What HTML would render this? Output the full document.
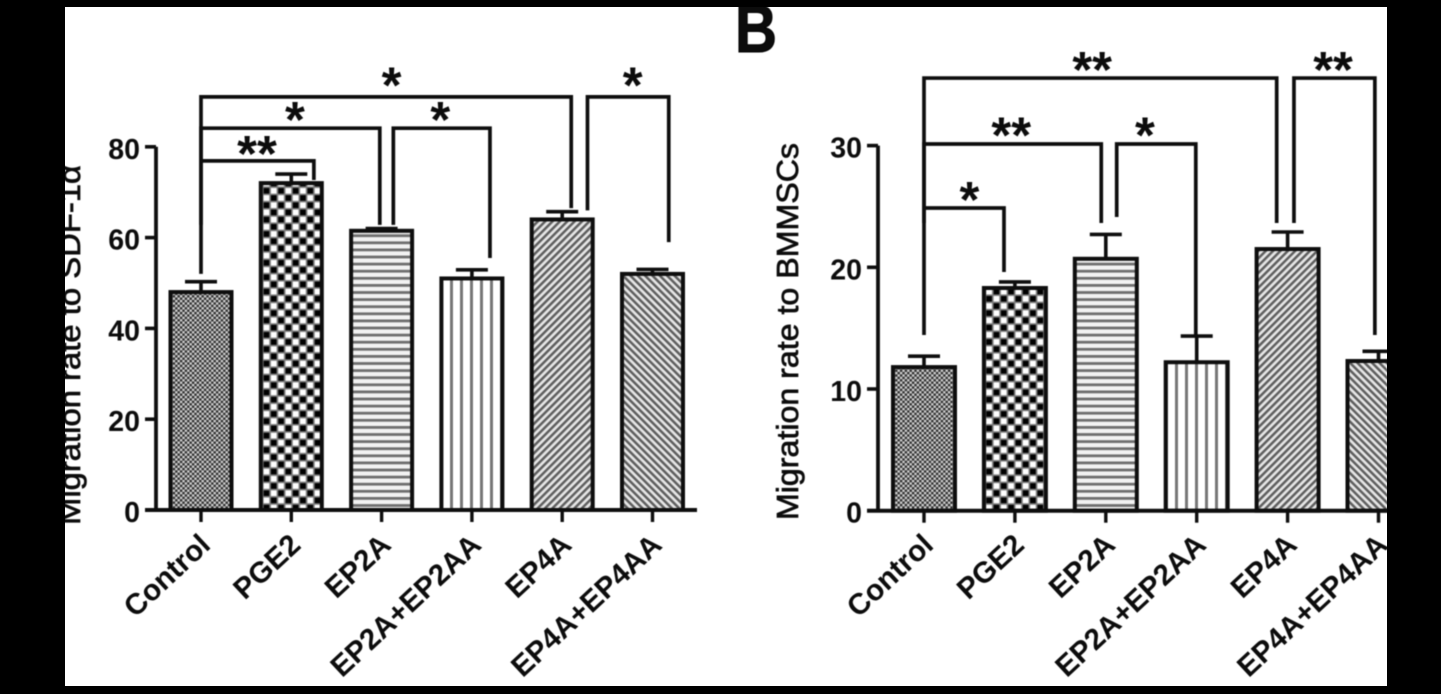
<!DOCTYPE html>
<html lang="en">
<head>
<meta charset="utf-8">
<title>Migration rate bar charts</title>
<style>
html,body{margin:0;padding:0;background:#000;}
#stage{position:relative;width:1441px;height:694px;overflow:hidden;background:#fff;}
#chart{position:absolute;left:0;top:0;filter:blur(0.65px);}
.frame{position:absolute;background:#000;}
text{font-family:"Liberation Sans",sans-serif;fill:#0c0c0c;}
</style>
</head>
<body>
<div id="stage">
<svg id="chart" width="1441" height="694" viewBox="0 0 1441 694" xmlns="http://www.w3.org/2000/svg">
<defs>
<pattern id="p-dots" width="4.8" height="4.8" patternUnits="userSpaceOnUse">
<rect width="4.8" height="4.8" fill="#7a7a7a"/>
<rect x="0" y="0" width="2.2" height="2.2" fill="#d4d4d4"/>
<rect x="2.4" y="2.4" width="2.2" height="2.2" fill="#d4d4d4"/>
<rect x="2.4" y="0" width="2.2" height="2.2" fill="#2c2c2c"/>
<rect x="0" y="2.4" width="2.2" height="2.2" fill="#2c2c2c"/>
</pattern>
<pattern id="p-check" width="14.6" height="14.4" patternUnits="userSpaceOnUse">
<rect width="14.6" height="14.4" fill="#7d7d7d"/>
<rect x="0.8" y="0.8" width="5.7" height="5.6" fill="#000"/>
<rect x="8.1" y="8" width="5.7" height="5.6" fill="#000"/>
<rect x="8.1" y="0.8" width="5.7" height="5.6" fill="#fff"/>
<rect x="0.8" y="8" width="5.7" height="5.6" fill="#fff"/>
</pattern>
<pattern id="p-horiz" width="7" height="7.1" patternUnits="userSpaceOnUse">
<rect width="7" height="7.1" fill="#f2f2f2"/>
<rect y="0" width="7" height="2.8" fill="#6f6f6f"/>
</pattern>
<pattern id="p-vert-left" x="1" width="10" height="10" patternUnits="userSpaceOnUse">
<rect width="10" height="10" fill="#fff"/>
<rect x="-1" width="3" height="10" fill="#777"/>
<rect x="9" width="2" height="10" fill="#777"/>
</pattern>
<pattern id="p-vert-right" x="6" width="10" height="10" patternUnits="userSpaceOnUse">
<rect width="10" height="10" fill="#fff"/>
<rect x="-1" width="3" height="10" fill="#777"/>
<rect x="9" width="2" height="10" fill="#777"/>
</pattern>
<pattern id="p-diag-up" width="5.2" height="5.2" patternUnits="userSpaceOnUse" patternTransform="rotate(45)">
<rect width="5.2" height="5.2" fill="#e6e6e6"/>
<rect width="2.5" height="5.2" fill="#5e5e5e"/>
</pattern>
<pattern id="p-diag-down" width="5.2" height="5.2" patternUnits="userSpaceOnUse" patternTransform="rotate(-45)">
<rect width="5.2" height="5.2" fill="#e6e6e6"/>
<rect width="2.5" height="5.2" fill="#5e5e5e"/>
</pattern>
</defs>
<g id="plot"></g>
</svg>
<div class="frame" style="left:0;top:0;width:1441px;height:7px"></div>
<div class="frame" style="left:0;top:686px;width:1441px;height:8px"></div>
<div class="frame" style="left:0;top:0;width:65px;height:694px"></div>
<div class="frame" style="left:1387px;top:0;width:54px;height:694px"></div>
</div>
<script>
const categories = ['Control', 'PGE2', 'EP2A', 'EP2A+EP2AA', 'EP4A', 'EP4A+EP4AA'];

const leftValues = [48, 72, 61.5, 51, 64, 52];
const leftUpper = [50.3, 74, 62, 52.9, 65.7, 53];
const leftTicks = [0, 20, 40, 60, 80];
const leftBracketStart = [0, 0, 0, 2.13, 4.28];
const leftBracketEnd = [4.1, 1.98, 1.25, 3.2, 5.18];
const leftBracketLevel = [91, 84.1, 76.9, 84.1, 91];
const leftBracketStartDrop = [52, 62.8, 76.9, 62.8, 66];
const leftBracketEndDrop = [66.5, 62.8, 72.7, 55.5, 59];
const leftStarText = ['*', '*', '**', '*', '*'];
const leftStarCategory = [2.11, 1.04, 0.62, 2.65, 4.78];
const leftStarLevel = [95, 87.5, 80, 87.5, 95];

const rightValues = [11.8, 18.3, 20.7, 12.2, 21.5, 12.3];
const rightUpper = [12.7, 18.8, 22.7, 14.35, 22.9, 13.1];
const rightTicks = [0, 10, 20, 30];
const rightBracketStart = [0, 0, 0, 2.12, 4.07];
const rightBracketEnd = [3.88, 1.95, 0.88, 2.99, 4.96];
const rightBracketLevel = [35.55, 30.13, 24.87, 30.13, 35.55];
const rightBracketStartDrop = [14.44, 23.64, 24.87, 24.13, 23.64];
const rightBracketEndDrop = [23.64, 23.64, 19.61, 14.44, 14.44];
const rightStarText = ['**', '*', '**', '*', '**'];
const rightStarCategory = [1.85, 0.5, 0.96, 2.43, 4.5];
const rightStarLevel = [36.8, 26.1, 31.4, 31.4, 36.8];

const NS = 'http://www.w3.org/2000/svg';
const plot = document.getElementById('plot');
const INK = '#0e0e0e';

function make(tag, parent, props) {
  const el = document.createElementNS(NS, tag);
  for (const k in props) el.setAttribute(k, props[k]);
  parent.appendChild(el);
  return el;
}

function drawPanel(o) {
  const g = make('g', plot, {});
  
  
  const X = i => o.x0 + i * o.step;
  const Y = v => o.y0 - v * o.unit;

  o.values.forEach((v, i) => {
    const bar = make('rect', g, {
      x: X(i) - o.barW / 2, y: Y(v), width: o.barW, height: o.y0 - Y(v),
      fill: 'url(#' + o.fills[i] + ')', stroke: INK, 'stroke-width': 4
    });
    
    

    const err = make('path', g, {
      d: 'M' + X(i) + ' ' + Y(v) + 'V' + Y(o.upper[i]) + 'M' + (X(i) - 16) + ' ' + Y(o.upper[i]) + 'H' + (X(i) + 16),
      fill: 'none', stroke: INK, 'stroke-width': 3.6
    });
    
    
  });

  o.bStart.forEach((s, i) => {
    const br = make('path', g, {
      d: 'M' + X(s) + ' ' + Y(o.bStartDrop[i]) + 'V' + Y(o.bLevel[i]) + 'H' + X(o.bEnd[i]) + 'V' + Y(o.bEndDrop[i]),
      fill: 'none', stroke: INK, 'stroke-width': 3.7
    });
    
    
  });

  o.starText.forEach((s, i) => {
    const t = make('text', g, {
      x: X(o.starCat[i]), y: Y(o.starLevel[i]) + 24,
      'text-anchor': 'middle', 'font-size': 51, 'font-weight': 'bold'
    });
    t.textContent = s;
    
    
  });

  const yAxis = make('path', g, {
    d: 'M' + o.axisX + ' ' + Y(o.ticks[o.ticks.length - 1]) + 'V' + o.y0,
    fill: 'none', stroke: INK, 'stroke-width': 3.8
  });
  
  

  o.ticks.forEach(v => {
    const tk = make('path', g, {
      d: 'M' + (o.axisX - 11) + ' ' + Y(v) + 'H' + o.axisX,
      stroke: INK, 'stroke-width': 3.6, fill: 'none'
    });
    
    

    const lb = make('text', g, {
      x: o.axisX - 16, y: Y(v) + 12,
      'text-anchor': 'end', 'font-size': 28.5, 'font-weight': 'bold'
    });
    lb.textContent = String(v);
    
    
  });

  const xAxis = make('path', g, {
    d: 'M' + (o.axisX - 11) + ' ' + o.y0 + 'H' + o.axisEnd,
    fill: 'none', stroke: INK, 'stroke-width': 4
  });
  
  

  categories.forEach((c, i) => {
    const tk = make('path', g, {
      d: 'M' + X(i) + ' ' + o.y0 + 'V' + (o.y0 + 12),
      stroke: INK, 'stroke-width': 3.4, fill: 'none'
    });
    
    

    const ax = X(i) + 11, ay = 547;
    const lb = make('text', g, {
      x: ax, y: ay, 'text-anchor': 'end', 'font-size': 29.5, 'font-weight': 'bold',
      transform: 'rotate(-43 ' + ax + ' ' + ay + ')'
    });
    lb.textContent = c;
    
    
  });

  const yt = make('text', g, {
    x: 0, y: 0, 'font-size': 31, stroke: '#0c0c0c', 'stroke-width': 0.7,
    transform: 'translate(' + o.titleX + ' ' + o.titleY + ') rotate(-90)',
    textLength: o.titleLen, lengthAdjust: 'spacingAndGlyphs'
  });
  yt.textContent = o.title;
  
  
}

drawPanel({
  name: 'left', x0: 201, step: 90.3, y0: 510, unit: 4.54, barW: 61,
  axisX: 156, axisEnd: 697,
  values: leftValues, upper: leftUpper, ticks: leftTicks,
  fills: ['p-dots', 'p-check', 'p-horiz', 'p-vert-left', 'p-diag-up', 'p-diag-down'],
  bStart: leftBracketStart, bEnd: leftBracketEnd, bLevel: leftBracketLevel,
  bStartDrop: leftBracketStartDrop, bEndDrop: leftBracketEndDrop,
  starText: leftStarText, starCat: leftStarCategory, starLevel: leftStarLevel,
  title: 'Migration rate to SDF-1α', titleX: 80, titleY: 525, titleLen: 360
});

drawPanel({
  name: 'right', x0: 924, step: 90.9, y0: 510.7, unit: 12.17, barW: 62,
  axisX: 878, axisEnd: 1400,
  values: rightValues, upper: rightUpper, ticks: rightTicks,
  fills: ['p-dots', 'p-check', 'p-horiz', 'p-vert-right', 'p-diag-up', 'p-diag-down'],
  bStart: rightBracketStart, bEnd: rightBracketEnd, bLevel: rightBracketLevel,
  bStartDrop: rightBracketStartDrop, bEndDrop: rightBracketEndDrop,
  starText: rightStarText, starCat: rightStarCategory, starLevel: rightStarLevel,
  title: 'Migration rate to BMMSCs', titleX: 798, titleY: 520, titleLen: 377
});

const panelLetter = make('text', plot, {
  x: 735, y: 52, 'font-size': 68, 'font-weight': 'bold', fill: '#000',
  stroke: '#000', 'stroke-width': 1, textLength: 42, lengthAdjust: 'spacingAndGlyphs'
});
panelLetter.textContent = 'B';


</script>
</body>
</html>
